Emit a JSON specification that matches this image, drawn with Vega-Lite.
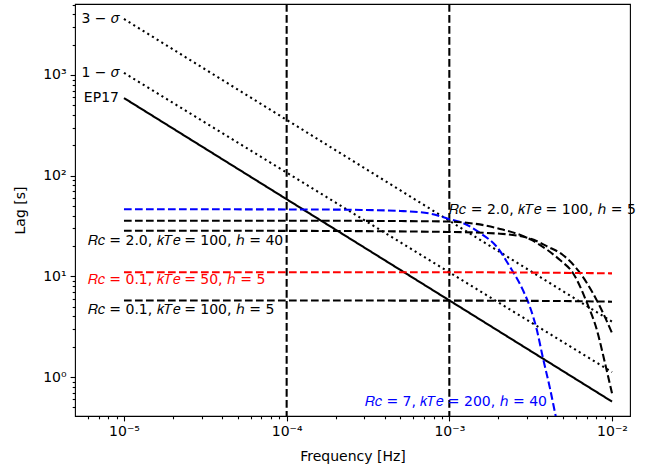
{
  "$schema": "https://vega.github.io/schema/vega-lite/v6.json",
  "width": 555,
  "height": 412,
  "autosize": "none",
  "padding": {"left": 75, "top": 4, "right": 35, "bottom": 56},
  "background": "white",
  "config": {
    "view": {"stroke": "black", "strokeWidth": 1.1},
    "font": "DejaVu Sans",
    "axis": {
      "domain": false,
      "grid": false,
      "labelFont": "DejaVu Sans",
      "labelFontSize": 14,
      "labelColor": "black",
      "titleFont": "DejaVu Sans",
      "titleFontSize": 14,
      "titleFontWeight": "normal",
      "titleColor": "black",
      "tickColor": "black",
      "tickWidth": 1.1,
      "labelPadding": 4,
      "labelOverlap": false,
      "labelFlush": false,
      "labelBound": false
    }
  },
  "datasets": {
    "lines": [
      {"series": "EP17", "f": 0.00001, "lag": 590},
      {"series": "EP17", "f": 0.01, "lag": 0.57},
      {"series": "1-sigma", "f": 0.00001, "lag": 1050},
      {"series": "1-sigma", "f": 0.01, "lag": 1.12},
      {"series": "3-sigma", "f": 0.00001, "lag": 3600},
      {"series": "3-sigma", "f": 0.01, "lag": 3.55},
      {"series": "Rc=7, kTe=200, h=40", "f": 0.00001, "lag": 46.4},
      {"series": "Rc=7, kTe=200, h=40", "f": 0.0001, "lag": 46.2},
      {"series": "Rc=7, kTe=200, h=40", "f": 0.0002, "lag": 46.0},
      {"series": "Rc=7, kTe=200, h=40", "f": 0.0003, "lag": 45.6},
      {"series": "Rc=7, kTe=200, h=40", "f": 0.0005, "lag": 44.6},
      {"series": "Rc=7, kTe=200, h=40", "f": 0.00076, "lag": 42.0},
      {"series": "Rc=7, kTe=200, h=40", "f": 0.001, "lag": 37.0},
      {"series": "Rc=7, kTe=200, h=40", "f": 0.00121, "lag": 33.9},
      {"series": "Rc=7, kTe=200, h=40", "f": 0.00154, "lag": 27.0},
      {"series": "Rc=7, kTe=200, h=40", "f": 0.00196, "lag": 19.6},
      {"series": "Rc=7, kTe=200, h=40", "f": 0.00236, "lag": 12.4},
      {"series": "Rc=7, kTe=200, h=40", "f": 0.00283, "lag": 7.33},
      {"series": "Rc=7, kTe=200, h=40", "f": 0.00313, "lag": 4.97},
      {"series": "Rc=7, kTe=200, h=40", "f": 0.00345, "lag": 2.94},
      {"series": "Rc=7, kTe=200, h=40", "f": 0.00376, "lag": 1.55},
      {"series": "Rc=7, kTe=200, h=40", "f": 0.00415, "lag": 0.78},
      {"series": "Rc=7, kTe=200, h=40", "f": 0.00452, "lag": 0.40},
      {"series": "Rc=7, kTe=200, h=40", "f": 0.0046, "lag": 0.35},
      {"series": "Rc=2.0, kTe=100, h=5", "f": 0.00001, "lag": 35.7},
      {"series": "Rc=2.0, kTe=100, h=5", "f": 0.0001, "lag": 35.7},
      {"series": "Rc=2.0, kTe=100, h=5", "f": 0.0005, "lag": 35.4},
      {"series": "Rc=2.0, kTe=100, h=5", "f": 0.001, "lag": 35.0},
      {"series": "Rc=2.0, kTe=100, h=5", "f": 0.0014, "lag": 33.5},
      {"series": "Rc=2.0, kTe=100, h=5", "f": 0.00205, "lag": 29.6},
      {"series": "Rc=2.0, kTe=100, h=5", "f": 0.0032, "lag": 23.0},
      {"series": "Rc=2.0, kTe=100, h=5", "f": 0.004, "lag": 18.3},
      {"series": "Rc=2.0, kTe=100, h=5", "f": 0.00479, "lag": 14.5},
      {"series": "Rc=2.0, kTe=100, h=5", "f": 0.00575, "lag": 10.8},
      {"series": "Rc=2.0, kTe=100, h=5", "f": 0.00702, "lag": 5.44},
      {"series": "Rc=2.0, kTe=100, h=5", "f": 0.00807, "lag": 2.94},
      {"series": "Rc=2.0, kTe=100, h=5", "f": 0.00905, "lag": 1.38},
      {"series": "Rc=2.0, kTe=100, h=5", "f": 0.01, "lag": 0.69},
      {"series": "Rc=2.0, kTe=100, h=40", "f": 0.00001, "lag": 28.4},
      {"series": "Rc=2.0, kTe=100, h=40", "f": 0.0001, "lag": 28.3},
      {"series": "Rc=2.0, kTe=100, h=40", "f": 0.001, "lag": 27.6},
      {"series": "Rc=2.0, kTe=100, h=40", "f": 0.00205, "lag": 26.5},
      {"series": "Rc=2.0, kTe=100, h=40", "f": 0.0032, "lag": 23.5},
      {"series": "Rc=2.0, kTe=100, h=40", "f": 0.004, "lag": 19.8},
      {"series": "Rc=2.0, kTe=100, h=40", "f": 0.00499, "lag": 16.3},
      {"series": "Rc=2.0, kTe=100, h=40", "f": 0.00636, "lag": 10.8},
      {"series": "Rc=2.0, kTe=100, h=40", "f": 0.00762, "lag": 6.84},
      {"series": "Rc=2.0, kTe=100, h=40", "f": 0.0088, "lag": 4.34},
      {"series": "Rc=2.0, kTe=100, h=40", "f": 0.01, "lag": 2.74},
      {"series": "Rc=0.1, kTe=50, h=5", "f": 0.00001, "lag": 11.0},
      {"series": "Rc=0.1, kTe=50, h=5", "f": 0.001, "lag": 11.0},
      {"series": "Rc=0.1, kTe=50, h=5", "f": 0.003, "lag": 10.9},
      {"series": "Rc=0.1, kTe=50, h=5", "f": 0.006, "lag": 10.8},
      {"series": "Rc=0.1, kTe=50, h=5", "f": 0.01, "lag": 10.7},
      {"series": "Rc=0.1, kTe=100, h=5", "f": 0.00001, "lag": 5.75},
      {"series": "Rc=0.1, kTe=100, h=5", "f": 0.001, "lag": 5.74},
      {"series": "Rc=0.1, kTe=100, h=5", "f": 0.005, "lag": 5.68},
      {"series": "Rc=0.1, kTe=100, h=5", "f": 0.01, "lag": 5.6}
    ],
    "vlines": [
      {"f": 0.0001},
      {"f": 0.001}
    ],
    "labels": [
      {"label": "3 − 𝜎", "f": 0.00001, "lag": 3600, "series": "3-sigma", "side": "right"},
      {"label": "1 − 𝜎", "f": 0.00001, "lag": 1050, "series": "1-sigma", "side": "right"},
      {"label": "EP17", "f": 0.00001, "lag": 590, "series": "EP17", "side": "right"},
      {"label": "𝑅𝑐 = 2.0, 𝑘𝑇𝑒 = 100, ℎ = 5", "f": 0.001, "lag": 45.6, "series": "Rc=2.0, kTe=100, h=5", "side": "left"},
      {"label": "𝑅𝑐 = 2.0, 𝑘𝑇𝑒 = 100, ℎ = 40", "f": 0.000006, "lag": 22.5, "series": "Rc=2.0, kTe=100, h=40", "side": "left"},
      {"label": "𝑅𝑐 = 0.1, 𝑘𝑇𝑒 = 50, ℎ = 5", "f": 0.000006, "lag": 9.2, "series": "Rc=0.1, kTe=50, h=5", "side": "left"},
      {"label": "𝑅𝑐 = 0.1, 𝑘𝑇𝑒 = 100, ℎ = 5", "f": 0.000006, "lag": 4.63, "series": "Rc=0.1, kTe=100, h=5", "side": "left"},
      {"label": "𝑅𝑐 = 7, 𝑘𝑇𝑒 = 200, ℎ = 40", "f": 0.000303, "lag": 0.566, "series": "Rc=7, kTe=200, h=40", "side": "left"}
    ]
  },
  "layer": [
    {
      "data": {"name": "vlines"},
      "mark": {"type": "rule", "color": "black", "strokeWidth": 2.08, "strokeDash": [7.7, 3.3]},
      "encoding": {
        "x": {
          "field": "f",
          "type": "quantitative",
          "scale": {"type": "log", "domain": [0.000005, 0.0129], "nice": false, "zero": false},
          "title": "Frequency [Hz]",
          "axis": {
            "values": [0.000006, 0.000007, 0.000008, 0.000009, 0.00001, 0.00002, 0.00003, 0.00004, 0.00005, 0.00006, 0.00007, 0.00008, 0.00009, 0.0001, 0.0002, 0.0003, 0.0004, 0.0005, 0.0006, 0.0007, 0.0008, 0.0009, 0.001, 0.002, 0.003, 0.004, 0.005, 0.006, 0.007, 0.008, 0.009, 0.01],
            "labelExpr": "abs(log(datum.value)/LN10 - round(log(datum.value)/LN10)) < 0.001 ? '10' + (round(log(datum.value)/LN10) < 0 ? '⁻' : '') + ['⁰','¹','²','³','⁴','⁵','⁶','⁷','⁸','⁹'][abs(round(log(datum.value)/LN10))] : ''",
            "tickSize": {"condition": {"test": "abs(log(datum.value)/LN10 - round(log(datum.value)/LN10)) < 0.001", "value": 4.9}, "value": 2.8},
            "titlePadding": 11
          }
        }
      }
    },
    {
      "data": {"name": "lines"},
      "mark": {"type": "line", "strokeWidth": 2.08, "clip": true, "strokeCap": "butt", "interpolate": "monotone"},
      "encoding": {
        "x": {"field": "f", "type": "quantitative"},
        "y": {
          "field": "lag",
          "type": "quantitative",
          "scale": {"type": "log", "domain": [0.41, 5070], "nice": false, "zero": false},
          "title": "Lag [s]",
          "axis": {
            "values": [0.5, 0.6, 0.7, 0.8, 0.9, 1, 2, 3, 4, 5, 6, 7, 8, 9, 10, 20, 30, 40, 50, 60, 70, 80, 90, 100, 200, 300, 400, 500, 600, 700, 800, 900, 1000, 2000, 3000, 4000, 5000],
            "labelExpr": "abs(log(datum.value)/LN10 - round(log(datum.value)/LN10)) < 0.001 ? '10' + (round(log(datum.value)/LN10) < 0 ? '⁻' : '') + ['⁰','¹','²','³','⁴','⁵','⁶','⁷','⁸','⁹'][abs(round(log(datum.value)/LN10))] : ''",
            "tickSize": {"condition": {"test": "abs(log(datum.value)/LN10 - round(log(datum.value)/LN10)) < 0.001", "value": 4.9}, "value": 2.8},
            "titlePadding": 15
          }
        },
        "color": {
          "field": "series",
          "type": "nominal",
          "legend": null,
          "scale": {
            "domain": ["EP17", "1-sigma", "3-sigma", "Rc=7, kTe=200, h=40", "Rc=2.0, kTe=100, h=5", "Rc=2.0, kTe=100, h=40", "Rc=0.1, kTe=50, h=5", "Rc=0.1, kTe=100, h=5"],
            "range": ["#000000", "#000000", "#000000", "#0000ff", "#000000", "#000000", "#ff0000", "#000000"]
          }
        },
        "strokeDash": {
          "field": "series",
          "type": "nominal",
          "legend": null,
          "scale": {
            "domain": ["EP17", "1-sigma", "3-sigma", "Rc=7, kTe=200, h=40", "Rc=2.0, kTe=100, h=5", "Rc=2.0, kTe=100, h=40", "Rc=0.1, kTe=50, h=5", "Rc=0.1, kTe=100, h=5"],
            "range": [[1, 0], [2.1, 3.4], [2.1, 3.4], [7.7, 3.3], [7.7, 3.3], [7.7, 3.3], [7.7, 3.3], [7.7, 3.3]]
          }
        }
      }
    },
    {
      "data": {"name": "labels"},
      "transform": [{"filter": "datum.side == 'right'"}],
      "mark": {"type": "text", "align": "right", "baseline": "middle", "dx": -5, "fontSize": 14, "font": "DejaVu Sans"},
      "encoding": {
        "x": {"field": "f", "type": "quantitative"},
        "y": {"field": "lag", "type": "quantitative"},
        "text": {"field": "label"},
        "color": {"field": "series", "type": "nominal", "legend": null}
      }
    },
    {
      "data": {"name": "labels"},
      "transform": [{"filter": "datum.side == 'left'"}],
      "mark": {"type": "text", "align": "left", "baseline": "middle", "fontSize": 14, "font": "DejaVu Sans"},
      "encoding": {
        "x": {"field": "f", "type": "quantitative"},
        "y": {"field": "lag", "type": "quantitative"},
        "text": {"field": "label"},
        "color": {"field": "series", "type": "nominal", "legend": null}
      }
    }
  ]
}
